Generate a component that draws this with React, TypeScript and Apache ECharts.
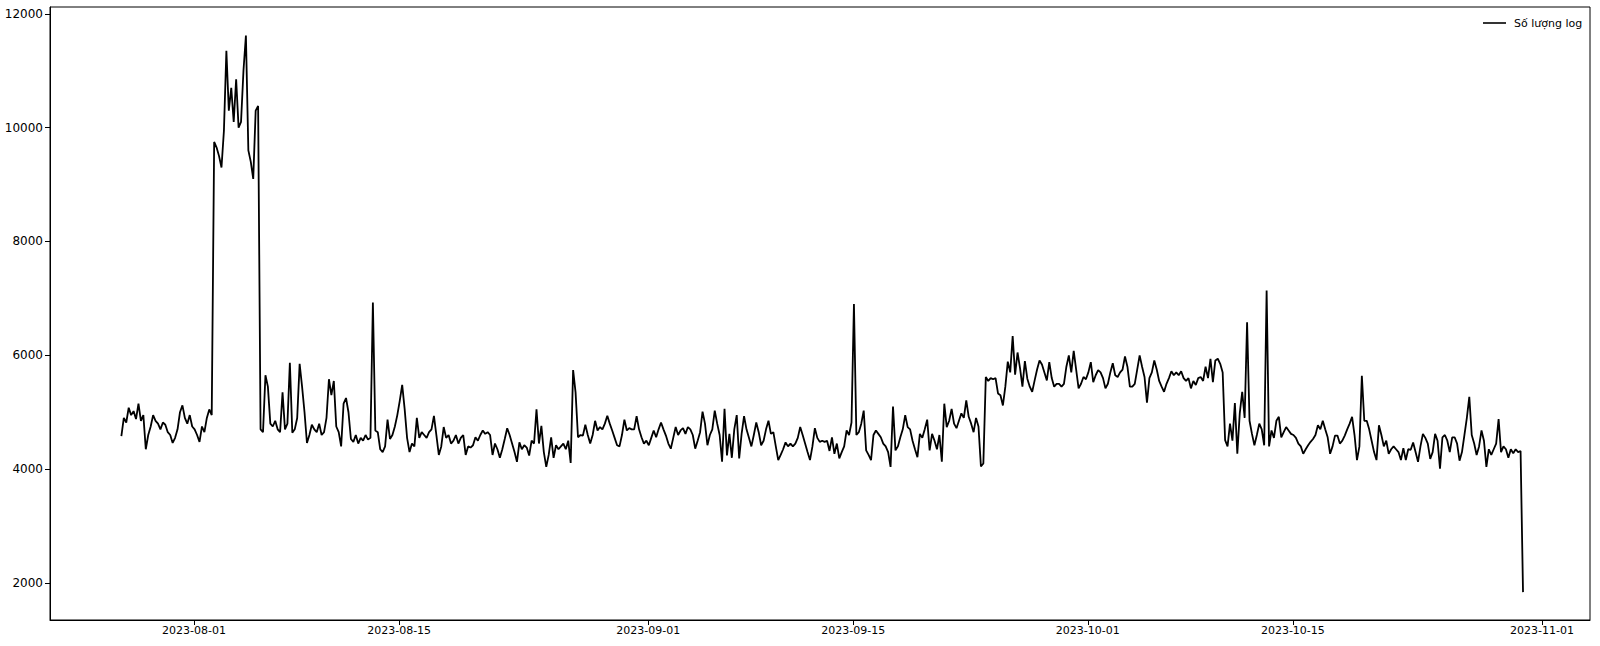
import React, { useEffect, useRef } from "react";
import * as echarts from "echarts";

// 4-hourly log counts, starting 2023-07-27 01:00 (UTC)
const lateJuly = [
  4580, 4900, 4820, 5080, 4950, 5020,
  4880, 5150, 4850, 4950, 4350, 4600,
  4750, 4950, 4850, 4800, 4700, 4820,
  4780, 4650, 4600, 4460, 4550, 4700,
  5000, 5120, 4900, 4800, 4950, 4750,
];
const augWeek1 = [
  4700, 4600, 4480, 4750, 4650, 4900,
  5050, 4950, 9750, 9650, 9500, 9300,
  9950, 11350, 10300, 10700, 10100, 10850,
  10000, 10100, 11000, 11620, 9600, 9400,
  9100, 10300, 10380, 4700, 4650, 5650,
  5450, 4800, 4750, 4850, 4700, 4650,
  5350, 4700, 4800, 5870, 4640, 4700,
];
const augWeek2 = [
  4900, 5850, 5450, 5000, 4460, 4600,
  4780, 4700, 4650, 4800, 4600, 4650,
  4900, 5580, 5300, 5550, 4750, 4650,
  4400, 5150, 5250, 5000, 4530, 4480,
  4600, 4450, 4550, 4500, 4600, 4520,
  4550, 6930, 4680, 4650, 4350, 4300,
  4400, 4870, 4530, 4600, 4750, 4950,
];
const augWeek3 = [
  5200, 5480, 5060, 4550, 4300, 4450,
  4400, 4900, 4550, 4650, 4600, 4550,
  4650, 4700, 4935, 4600, 4250, 4400,
  4740, 4550, 4600, 4450, 4500, 4600,
  4450, 4550, 4600, 4250, 4400, 4380,
  4420, 4560, 4500, 4600, 4680, 4620,
  4650, 4600, 4250, 4450, 4350, 4200,
];
const augWeek4 = [
  4350, 4530, 4720, 4600, 4450, 4300,
  4130, 4470, 4350, 4420, 4380, 4240,
  4500, 4450, 5050, 4450, 4760, 4300,
  4040, 4250, 4560, 4200, 4420, 4350,
  4400, 4450, 4350, 4500, 4110, 5740,
  5350, 4560, 4600, 4590, 4780, 4600,
  4450, 4600, 4850, 4680, 4740, 4700,
  4800, 4940, 4800, 4680, 4550, 4420,
  4400, 4600, 4870, 4680, 4720, 4700,
  4700, 4930, 4700, 4560, 4450, 4500,
];
const sepWeek1 = [
  4420, 4550, 4680, 4560, 4700, 4820,
  4700, 4590, 4450, 4360, 4550, 4740,
  4600, 4680, 4720, 4620, 4740, 4700,
  4600, 4360, 4500, 4650, 5010, 4800,
  4420, 4600, 4700, 5030, 4800, 4600,
  4130, 5060, 4240, 4620, 4200, 4700,
  4950, 4190, 4620, 4930, 4700, 4550,
];
const sepWeek2 = [
  4400, 4600, 4820, 4650, 4420, 4500,
  4700, 4850, 4620, 4650, 4400, 4160,
  4250, 4350, 4470, 4400, 4450, 4400,
  4450, 4550, 4740, 4600, 4450, 4300,
  4160, 4400, 4720, 4550, 4480, 4500,
  4480, 4500, 4320, 4560, 4270, 4450,
  4190, 4300, 4400, 4680, 4600, 4820,
];
const sepWeek3 = [
  6900, 4600, 4650, 4800, 5030, 4330,
  4250, 4160, 4600, 4680, 4620, 4560,
  4450, 4400, 4300, 4040, 5100, 4330,
  4400, 4560, 4700, 4950, 4740, 4700,
  4500, 4350, 4210, 4620, 4550, 4700,
  4870, 4330, 4620, 4500, 4350, 4600,
  4130, 5150, 4740, 4850, 5060, 4800,
];
const sepWeek4 = [
  4720, 4850, 4980, 4900, 5210, 4920,
  4800, 4650, 4900, 4750, 4050, 4100,
  5620, 5550, 5600, 5580, 5600, 5330,
  5300, 5120, 5450, 5890, 5700, 6340,
  5660, 6050, 5780, 5450, 5900, 5590,
  5450, 5360, 5560, 5750, 5910, 5840,
  5700, 5560, 5880, 5600, 5450, 5500,
  5500, 5450, 5500, 5800, 6000, 5700,
  6080, 5750, 5420, 5500, 5620, 5580,
];
const octWeek1 = [
  5700, 5880, 5530, 5650, 5740, 5700,
  5600, 5420, 5500, 5700, 5860, 5650,
  5620, 5700, 5750, 5980, 5800, 5450,
  5450, 5500, 5750, 6000, 5800, 5620,
  5170, 5600, 5700, 5910, 5750, 5550,
  5450, 5360, 5500, 5600, 5720, 5650,
  5700, 5650, 5720, 5600, 5550, 5600,
];
const octWeek2 = [
  5420, 5550, 5480, 5600, 5620, 5550,
  5800, 5600, 5940, 5530, 5910, 5940,
  5850, 5700, 4510, 4400, 4800, 4500,
  5160, 4270, 4980, 5360, 4900, 6580,
  4850, 4620, 4420, 4600, 4800, 4700,
  4420, 7140, 4400, 4680, 4550, 4850,
  4920, 4560, 4650, 4740, 4680, 4620,
];
const octWeek3 = [
  4600, 4550, 4450, 4400, 4270, 4350,
  4420, 4480, 4530, 4600, 4770, 4700,
  4850, 4700, 4560, 4270, 4400, 4590,
  4590, 4450, 4500, 4590, 4700, 4800,
  4920, 4600, 4160, 4400, 5640, 4850,
  4850, 4700, 4500, 4300, 4160, 4770,
  4600, 4400, 4500, 4270, 4350, 4400,
];
const octWeek4 = [
  4350, 4300, 4160, 4370, 4160, 4350,
  4340, 4470, 4300, 4130, 4400, 4620,
  4550, 4450, 4180, 4300, 4620, 4500,
  4010, 4560, 4600, 4500, 4300, 4560,
  4560, 4450, 4150, 4300, 4600, 4900,
  5270, 4600, 4450, 4250, 4400, 4680,
  4500, 4040, 4350, 4250, 4350, 4450,
  4880, 4300, 4400, 4350, 4200, 4350,
  4280, 4350, 4300, 4320, 1840,
];

const startTime = Date.UTC(2023, 6, 27, 1, 0);
const stepMs = 4 * 3600 * 1000;

const xTickDates = [
  "2023-08-01",
  "2023-08-15",
  "2023-09-01",
  "2023-09-15",
  "2023-10-01",
  "2023-10-15",
  "2023-11-01",
];
const yTicks = [2000, 4000, 6000, 8000, 10000, 12000];
const seriesName = "Số lượng log";

const allCounts = [
  ...lateJuly, ...augWeek1, ...augWeek2, ...augWeek3, ...augWeek4,
  ...sepWeek1, ...sepWeek2, ...sepWeek3, ...sepWeek4,
  ...octWeek1, ...octWeek2, ...octWeek3, ...octWeek4,
];

const toMs = (s: string) => {
  const [y, m, d] = s.split("-").map(Number);
  return Date.UTC(y, m - 1, d);
};

export default function App() {
  const ref = useRef<HTMLDivElement>(null);
  useEffect(() => {
    if (!ref.current) return;
    const chart = echarts.init(ref.current, null, { renderer: "svg" });
    const data = allCounts.map((v, i) => [startTime + i * stepMs, v]);
    const xTicks = xTickDates.map(toMs);
    const dayMs = 86400000;
    const font = "DejaVu Sans";
    chart.setOption({
      animation: false,
      backgroundColor: "#fff",
      grid: {
        left: 50,
        right: 10,
        top: 7,
        bottom: 26,
        show: true,
        borderColor: "#000",
        borderWidth: 1,
        backgroundColor: "transparent",
      },
      graphic: [
        {
          type: "line",
          shape: { x1: 1483, y1: 23, x2: 1506, y2: 23 },
          style: { stroke: "#000", lineWidth: 1.6 },
          silent: true,
        },
        {
          type: "text",
          x: 1514,
          y: 23,
          style: {
            text: seriesName,
            fontFamily: font,
            fontSize: 11,
            fill: "#000",
            align: "left",
            verticalAlign: "middle",
          },
          silent: true,
        },
      ],
      xAxis: {
        type: "value",
        min: toMs("2023-08-01") - 9.83 * dayMs,
        max: toMs("2023-11-01") + 3.28 * dayMs,
        splitLine: { show: false },
        axisLine: { show: true, lineStyle: { color: "#000", width: 1 } },
        axisTick: {
          show: true,
          length: 5,
          customValues: xTicks,
          lineStyle: { color: "#000" },
        },
        axisLabel: {
          show: true,
          customValues: xTicks,
          margin: 5,
          fontFamily: font,
          fontSize: 11,
          color: "#000",
          formatter: (v: number) => new Date(v).toISOString().slice(0, 10),
        },
      },
      yAxis: {
        type: "value",
        min: 1350,
        max: 12120,
        splitLine: { show: false },
        axisLine: { show: true, lineStyle: { color: "#000", width: 1 } },
        axisTick: {
          show: true,
          length: 5,
          customValues: yTicks,
          lineStyle: { color: "#000" },
        },
        axisLabel: {
          show: true,
          customValues: yTicks,
          margin: 7,
          fontFamily: font,
          fontSize: 12,
          color: "#000",
          formatter: (v: number) => String(Math.round(v)),
        },
      },
      series: [
        {
          name: seriesName,
          type: "line",
          data,
          showSymbol: false,
          symbol: "none",
          lineStyle: { color: "#000", width: 1.8 },
          itemStyle: { color: "#000" },
          emphasis: { disabled: true },
        },
      ],
    });
    return () => chart.dispose();
  }, []);
  return (
    <div
      ref={ref}
      style={{ position: "fixed", left: 0, top: 0, width: 1600, height: 646 }}
    />
  );
}
